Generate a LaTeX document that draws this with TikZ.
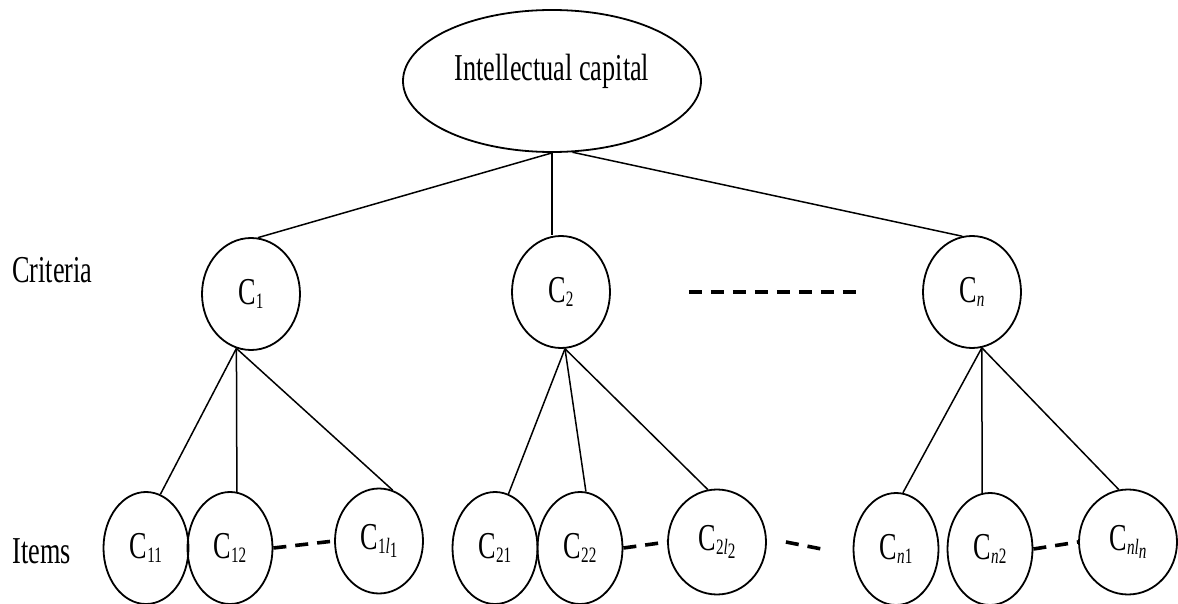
\documentclass[tikz,border=0pt]{standalone}
\usepackage{fontspec}
\setmainfont{Liberation Serif}[FakeStretch=0.69]
\usetikzlibrary{shapes.geometric}
\newcommand{\ix}[1]{\raisebox{-2pt}{\fontsize{11}{11}\selectfont #1}}

\begin{document}
\begin{tikzpicture}[
  x=0.5pt,
  y=-0.5pt,
  whole/.style={
    draw,
    ellipse,
    line width=0.9pt,
    inner sep=0pt,
    minimum width=149pt,
    minimum height=71pt,
    text height=13pt,
    text depth=13pt
  },
  crit/.style={draw, ellipse, line width=0.9pt, inner sep=0pt, minimum width=49pt, minimum height=56pt},
  item/.style={draw, ellipse, line width=0.9pt, inner sep=0pt, minimum width=42.5pt, minimum height=56pt},
  lastitem/.style={item, minimum width=49pt, minimum height=52.5pt},
  side/.style={anchor=base west, inner sep=0pt},
  link/.style={line width=0.75pt},
  gapline/.style={line width=1.8pt, dash pattern=on 6.5pt off 4.5pt},
  font=\fontsize{19}{21}\selectfont
]
\useasboundingbox (0,0) rectangle (1178,604);

\node[whole] (ic) at (552,81) {Intellectual capital};

\node[side] (crlabel) at (12,283) {Criteria};
\node[side] (itlabel) at (12,563) {Items};

\node[crit] (c1) at (251,294) {C\ix{1}};
\node[crit] (c2) at (561,292) {C\ix{2}};
\node[crit] (cn) at (972,292) {C\ix{\textit{n}}};

\node[item] (c11) at (146,548) {C\ix{11}};
\node[item] (c12) at (230,548) {C\ix{12}};
\node[lastitem, minimum width=44pt] (c1l) at (379,541) {C\ix{1\textit{l}\ix{1}}};

\node[item] (c21) at (495,548) {C\ix{21}};
\node[item] (c22) at (580,548) {C\ix{22}};
\node[lastitem] (c2l) at (717,542) {C\ix{2\textit{l}\ix{2}}};

\node[item] (cn1) at (896,549) {C\ix{\textit{n}1}};
\node[item] (cn2) at (990,549) {C\ix{\textit{n}2}};
\node[lastitem] (cnl) at (1128,542) {C\ix{\textit{nl}\ix{\textit{n}}}};

\draw[link] (ic.south) -- (c1.83);
\draw[link] (ic.south) -- (ic.south |- c2.north);
\draw[link] (ic.286) -- (cn.100);

\draw[link] (c1.255) -- (c11.75);
\draw[link] (c1.255) -- (c12.83);
\draw[link] (c1.255) -- (c1l.75);

\draw[link] (c2.274) -- (c21.76);
\draw[link] (c2.274) -- (c22.84);
\draw[link] (c2.274) -- (c2l.100);

\draw[link] (cn.280) -- (cn1.83);
\draw[link] (cn.280) -- (cn2.98);
\draw[link] (cn.280) -- (cnl.100);

\draw[gapline] ([xshift=39pt]c2.east) -- ([xshift=-31pt]cn.west);
\draw[gapline] (c12.east) -- (c1l.west);
\draw[gapline] (c22.east) -- (c2l.west);
\draw[gapline] ([xshift=9.5pt]c2l.east) -- ([xshift=-15.5pt]cn1.west);
\draw[gapline] (cn2.east) -- (cnl.west);
\end{tikzpicture}
\end{document}
